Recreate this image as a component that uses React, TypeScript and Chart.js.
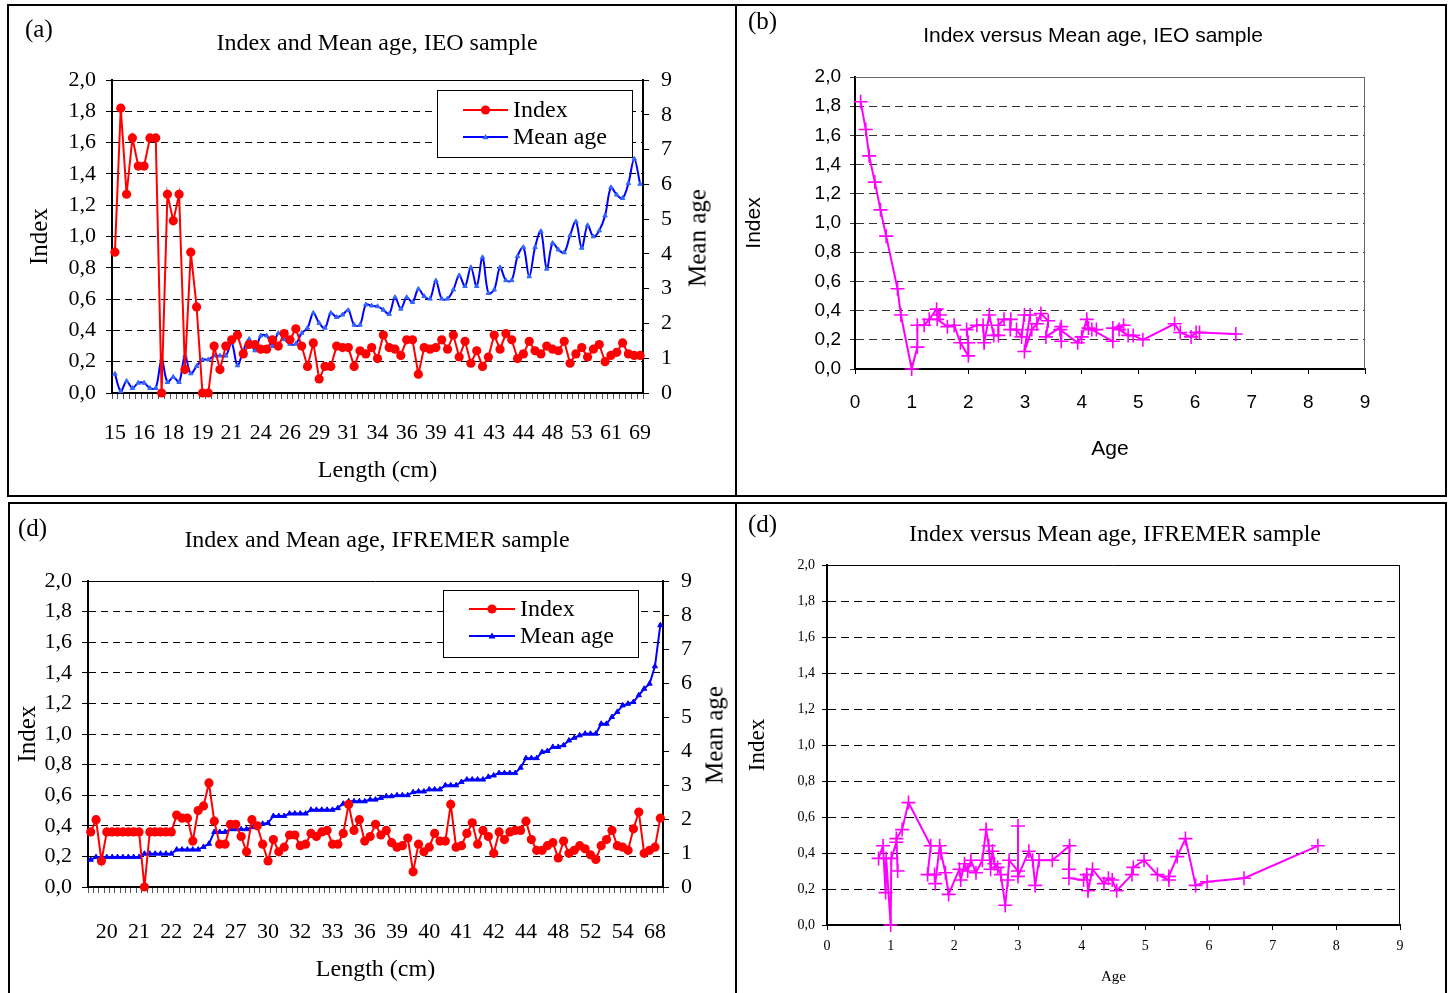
import React, { useEffect, useRef } from 'react';
import { Chart, registerables } from 'chart.js';
Chart.register(...registerables);

const SERIF = "'Liberation Serif','Times New Roman',Times,serif";
const SANS = "'Liberation Sans',Arial,Helvetica,sans-serif";

// ---------- Panel (a): Index and Mean age, IEO sample ----------
const tickLabelsA = ['15','16','18','19','21','24','26','29','31','34','36','39','41','43','44','48','53','61','69'];
const indexA = [0.90,1.82,1.27,1.63,1.45,1.45,1.63,1.63,0.00,1.27,
  1.10,1.27,0.15,0.90,0.55,0.00,0.00,0.30,0.15,0.30,
  0.34,0.37,0.25,0.31,0.31,0.28,0.28,0.34,0.30,0.38,
  0.34,0.41,0.30,0.17,0.32,0.09,0.17,0.17,0.30,0.29,
  0.29,0.17,0.27,0.25,0.29,0.22,0.37,0.29,0.28,0.24,
  0.34,0.34,0.12,0.29,0.28,0.29,0.34,0.28,0.37,0.23,
  0.33,0.19,0.27,0.17,0.23,0.37,0.28,0.38,0.34,0.22,
  0.25,0.33,0.27,0.25,0.30,0.28,0.27,0.33,0.19,0.25,
  0.29,0.23,0.28,0.31,0.20,0.24,0.26,0.32,0.25,0.24,
  0.24];
const meanAgeA = [0.55,0.05,0.34,0.14,0.29,0.29,0.14,0.14,0.96,0.31,
  0.46,0.31,1.07,0.56,0.77,0.96,0.96,1.07,1.07,1.07,
  1.44,0.79,1.22,1.55,1.22,1.65,1.65,1.34,1.72,1.55,
  1.41,1.41,1.72,1.87,2.30,2.01,1.87,2.30,2.18,2.25,
  2.38,1.96,1.96,2.54,2.51,2.49,2.39,2.27,2.75,2.42,
  2.75,2.61,2.99,2.78,2.71,3.23,2.71,2.71,2.97,3.38,
  3.07,3.61,3.07,3.90,2.87,2.97,3.61,3.24,3.24,3.93,
  4.19,3.35,4.19,4.65,3.57,4.31,4.12,4.04,4.53,4.93,
  4.17,4.82,4.50,4.67,5.10,5.91,5.70,5.60,6.03,6.73,
  6.01];

// ---------- Panel (b): Index versus Mean age, IEO sample ----------
const ageB = [0.10,0.19,0.25,0.35,0.45,0.55,0.75,0.81,1.00,1.10,
  1.10,1.22,1.31,1.44,1.50,1.45,1.63,1.75,1.86,2.00,
  2.00,1.97,2.15,2.26,2.28,2.37,2.45,2.53,2.53,2.63,
  2.75,2.74,2.85,2.94,2.99,3.09,2.99,3.12,3.21,3.28,
  3.41,3.37,3.64,3.64,3.62,3.93,4.00,4.09,4.12,4.26,
  4.18,4.55,4.55,4.74,4.66,4.82,4.91,5.08,5.64,5.74,
  5.93,6.02,6.08,6.72];
const indexB = [1.83,1.64,1.46,1.28,1.09,0.91,0.55,0.37,0.00,0.15,
  0.30,0.30,0.34,0.41,0.37,0.34,0.29,0.30,0.18,0.09,
  0.18,0.27,0.30,0.30,0.18,0.37,0.23,0.23,0.30,0.34,
  0.34,0.27,0.27,0.22,0.37,0.37,0.12,0.27,0.31,0.38,
  0.33,0.22,0.29,0.19,0.27,0.18,0.22,0.34,0.28,0.27,
  0.27,0.19,0.28,0.30,0.27,0.23,0.23,0.20,0.31,0.25,
  0.22,0.25,0.25,0.24];

// ---------- Panel (c): Index and Mean age, IFREMER sample ----------
const tickLabelsC = ['20','21','22','24','27','30','32','33','36','39','40','41','42','44','48','52','54','68'];
const indexC = [0.36,0.44,0.17,0.36,0.36,0.36,0.36,0.36,0.36,0.36,
  0.00,0.36,0.36,0.36,0.36,0.36,0.47,0.45,0.45,0.30,
  0.50,0.53,0.68,0.43,0.28,0.28,0.41,0.41,0.33,0.23,
  0.44,0.40,0.28,0.17,0.31,0.23,0.26,0.34,0.34,0.27,
  0.28,0.35,0.33,0.36,0.37,0.28,0.28,0.35,0.54,0.37,
  0.44,0.30,0.33,0.41,0.34,0.37,0.29,0.26,0.27,0.32,
  0.10,0.28,0.23,0.26,0.35,0.30,0.30,0.54,0.26,0.27,
  0.35,0.42,0.28,0.37,0.33,0.22,0.36,0.31,0.36,0.37,
  0.37,0.43,0.31,0.24,0.24,0.27,0.29,0.19,0.30,0.22,
  0.24,0.27,0.25,0.21,0.18,0.27,0.31,0.37,0.27,0.26,
  0.24,0.38,0.49,0.22,0.24,0.26,0.45];
const meanAgeC = [0.80,0.88,0.88,0.88,0.88,0.88,0.88,0.88,0.88,0.88,
  0.98,0.98,0.98,0.98,0.98,0.98,
  1.10,1.10,1.10,1.10,1.10,
  1.18,1.27,1.62,1.62,1.62,
  1.70,1.70,1.70,1.70,
  1.76,1.81,1.86,1.88,
  2.09,2.09,2.09,
  2.16,2.16,2.16,2.16,
  2.27,2.27,2.27,2.27,2.27,
  2.32,2.45,
  2.52,2.52,2.52,2.52,
  2.57,2.57,2.62,
  2.67,2.67,2.70,2.70,2.70,
  2.79,2.81,2.81,
  2.87,2.87,2.87,
  2.99,2.99,2.99,
  3.09,3.16,3.16,3.16,3.16,
  3.24,3.28,
  3.35,3.35,3.35,3.35,
  3.51,3.79,3.79,3.79,
  3.97,4.00,4.12,4.12,4.17,
  4.31,4.39,4.46,
  4.51,4.51,4.51,
  4.80,4.80,5.00,5.15,5.34,
  5.39,5.44,5.64,5.83,5.98,
  6.49,7.70];

// ---------- Panel (d): Index versus Mean age, IFREMER sample ----------
const ageD = [0.81,0.88,0.92,0.93,1.00,1.01,1.09,1.11,1.09,1.18,
  1.28,1.63,1.58,1.69,1.70,1.77,1.79,1.86,1.91,2.08,
  2.10,2.16,2.21,2.26,2.34,2.44,2.50,2.54,2.57,2.60,
  2.63,2.68,2.73,2.80,2.84,2.86,3.00,3.00,3.00,3.17,
  3.23,3.27,3.33,3.54,3.81,3.80,3.80,4.03,4.08,4.10,
  4.17,4.35,4.42,4.48,4.55,4.79,4.81,4.98,5.19,5.37,
  5.37,5.50,5.63,5.79,5.97,6.55,7.71];
const indexD = [0.37,0.44,0.18,0.37,0.00,0.37,0.46,0.30,0.48,0.53,
  0.68,0.44,0.28,0.28,0.23,0.44,0.40,0.29,0.17,0.31,
  0.25,0.34,0.30,0.36,0.29,0.36,0.53,0.44,0.31,0.41,
  0.34,0.32,0.28,0.11,0.25,0.36,0.30,0.55,0.27,0.41,
  0.36,0.22,0.36,0.36,0.44,0.31,0.26,0.25,0.28,0.19,
  0.31,0.23,0.26,0.25,0.19,0.28,0.32,0.36,0.28,0.25,
  0.27,0.38,0.48,0.22,0.24,0.26,0.44];

const categoriesA = indexA.map((_, i) => (i % 5 === 0 ? tickLabelsA[i / 5] ?? '' : ''));
const categoriesC = indexC.map((_, i) => (i >= 3 && (i - 3) % 6 === 0 ? tickLabelsC[(i - 3) / 6] ?? '' : ''));

const fmtComma = (v: any) => Number(v).toFixed(1).replace('.', ',');

// ---------- plugins ----------
const framePlugin = {
  id: 'frame',
  beforeDatasetsDraw(chart: any, _a: any, opts: any) {
    if (!opts || !opts.color) return;
    const { left, right, top, bottom } = chart.chartArea;
    const ctx = chart.ctx;
    ctx.save();
    ctx.strokeStyle = opts.color;
    ctx.lineWidth = opts.width || 1;
    ctx.setLineDash([]);
    ctx.beginPath();
    if (opts.top) { ctx.moveTo(left, top + 0.5); ctx.lineTo(right, top + 0.5); }
    if (opts.right) { ctx.moveTo(right - 0.5, top); ctx.lineTo(right - 0.5, bottom); }
    ctx.stroke();
    ctx.restore();
  },
};

const insetLegend = {
  id: 'insetLegend',
  afterDraw(chart: any, _a: any, opts: any) {
    if (!opts || opts.w === undefined) return;
    const ctx = chart.ctx;
    const { x, y, w, h, rows, lineX0, lineX1, textX, font } = opts;
    ctx.save();
    ctx.fillStyle = '#fff';
    ctx.fillRect(x, y, w, h);
    ctx.strokeStyle = '#000';
    ctx.lineWidth = 1;
    ctx.strokeRect(x + 0.5, y + 0.5, w, h);
    chart.data.datasets.forEach((ds: any, i: number) => {
      const cy = y + rows[i];
      ctx.strokeStyle = ds.borderColor;
      ctx.lineWidth = 2;
      ctx.beginPath();
      ctx.moveTo(x + lineX0, cy);
      ctx.lineTo(x + lineX1, cy);
      ctx.stroke();
      const mx = x + (lineX0 + lineX1) / 2;
      ctx.fillStyle = ds.pointBackgroundColor || ds.backgroundColor;
      if (ds.pointStyle === 'circle') {
        ctx.beginPath();
        ctx.arc(mx, cy, ds.pointRadius, 0, Math.PI * 2);
        ctx.fill();
      } else {
        const r = ds.pointRadius + 0.5;
        ctx.beginPath();
        ctx.moveTo(mx, cy - r);
        ctx.lineTo(mx + r, cy + r * 0.7);
        ctx.lineTo(mx - r, cy + r * 0.7);
        ctx.closePath();
        ctx.fill();
      }
      ctx.fillStyle = '#000';
      ctx.font = font;
      ctx.textBaseline = 'middle';
      ctx.textAlign = 'left';
      ctx.fillText(ds.label, x + textX, cy + 1);
    });
    ctx.restore();
  },
};

// ---------- config builders ----------
function dualConfig(p: any) {
  return {
    type: 'line',
    data: {
      labels: p.labels,
      datasets: [
        {
          label: 'Index', data: p.index, yAxisID: 'y',
          borderColor: '#ff0000', backgroundColor: '#ff0000',
          pointBackgroundColor: '#ff0000', pointBorderColor: '#ff0000',
          borderWidth: 2, pointStyle: 'circle', pointRadius: 4.6, pointBorderWidth: 0,
          tension: 0, clip: false,
        },
        {
          label: 'Mean age', data: p.age, yAxisID: 'y2',
          borderColor: p.ageLine, backgroundColor: p.agePoint,
          pointBackgroundColor: p.agePoint, pointBorderColor: p.agePoint,
          borderWidth: 2, pointStyle: 'triangle', pointRadius: p.ageRadius, pointBorderWidth: 1,
          tension: p.ageTension, clip: false,
        },
      ],
    },
    options: {
      animation: false,
      responsive: false,
      events: [],
      layout: { padding: { left: p.padLeft, right: p.padRight, top: p.padTop, bottom: 0 } },
      plugins: {
        legend: { display: false },
        tooltip: { enabled: false },
        frame: { color: '#000', width: 1, top: true, right: false },
        insetLegend: p.legend,
      },
      scales: {
        x: {
          type: 'category',
          offset: true,
          grid: { offset: true, drawOnChartArea: false, drawTicks: true, tickLength: 6, color: '#555', lineWidth: 1 },
          border: { color: '#000', width: 2 },
          ticks: { autoSkip: false, maxRotation: 0, minRotation: 0, padding: p.xTickPad, color: '#000', font: { family: SERIF, size: 22 } },
          title: { display: true, text: 'Length (cm)', color: '#000', font: { family: SERIF, size: 24 }, padding: { top: 0, bottom: p.xTitlePad } },
          afterFit: (s: any) => { s.height = p.xHeight; },
        },
        y: {
          position: 'left',
          min: 0, max: 2,
          ticks: { stepSize: 0.2, padding: 10, color: '#000', font: { family: SERIF, size: 22 }, callback: fmtComma },
          grid: { color: '#000', lineWidth: 1, tickLength: 6 },
          border: { color: '#000', width: 2, dash: [7, 5] },
          title: { display: true, text: 'Index', color: '#000', font: { family: SERIF, size: 25 }, padding: { top: 0, bottom: 0 } },
          afterFit: (s: any) => { s.width = p.yWidth; },
        },
        y2: {
          position: 'right',
          min: 0, max: 9,
          ticks: { stepSize: 1, padding: 12, color: '#000', font: { family: SERIF, size: 22 } },
          grid: { drawOnChartArea: false, color: '#000', tickLength: 6 },
          border: { color: '#000', width: 2 },
          afterFit: (s: any) => { s.width = p.y2Width; },
        },
      },
    },
    plugins: [framePlugin, insetLegend],
  };
}

function scatterConfig(p: any) {
  return {
    type: 'scatter',
    data: {
      datasets: [
        {
          label: 'Index',
          data: p.ages.map((a: number, i: number) => ({ x: a, y: p.index[i] })),
          showLine: true,
          borderColor: '#ff00ff', backgroundColor: '#ff00ff',
          pointBorderColor: '#ff00ff',
          borderWidth: 2, pointStyle: 'cross', pointRadius: 7, pointBorderWidth: 1.6,
          tension: 0, clip: false,
        },
      ],
    },
    options: {
      animation: false,
      responsive: false,
      events: [],
      layout: { padding: { left: p.padLeft, right: p.padRight, top: p.padTop, bottom: 0 } },
      plugins: {
        legend: { display: false },
        tooltip: { enabled: false },
        frame: { color: p.frameColor, width: 1, top: true, right: true },
      },
      scales: {
        x: {
          type: 'linear', min: 0, max: 9,
          grid: { drawOnChartArea: false, drawTicks: true, tickLength: 5, color: '#000' },
          border: { color: '#000', width: 2 },
          ticks: { stepSize: 1, padding: p.xTickPad, color: '#000', maxRotation: 0, font: { family: p.tickFamily, size: p.tickSize } },
          title: { display: true, text: 'Age', color: '#000', font: { family: p.tickFamily, size: p.ageTitleSize }, padding: { top: 0, bottom: p.xTitlePad } },
          afterFit: (s: any) => { s.height = p.xHeight; },
        },
        y: {
          min: 0, max: 2,
          ticks: { stepSize: 0.2, padding: p.yTickPad, color: '#000', font: { family: p.tickFamily, size: p.tickSize }, callback: fmtComma },
          grid: { color: p.gridColor, lineWidth: 1, tickLength: 5 },
          border: { color: '#000', width: 2, dash: [8, 5] },
          title: { display: true, text: 'Index', color: '#000', font: { family: p.indexFamily, size: p.indexTitleSize }, padding: { top: 0, bottom: 0 } },
          afterFit: (s: any) => { s.width = p.yWidth; },
        },
      },
    },
    plugins: [framePlugin],
  };
}

function ChartCanvas({ make, left, top, width, height }: any) {
  const ref = useRef<HTMLCanvasElement>(null);
  useEffect(() => {
    const chart = new Chart(ref.current as HTMLCanvasElement, make() as any);
    return () => chart.destroy();
  }, []);
  return (
    <canvas
      ref={ref}
      width={width}
      height={height}
      style={{ position: 'absolute', left, top, width, height }}
    />
  );
}

function Label({ x, y, text, size, family = SERIF, rotate = 0, anchor = 'center' }: any) {
  const tr = anchor === 'center' ? 'translate(-50%,-50%)' : 'translate(0,-50%)';
  return (
    <div
      style={{
        position: 'absolute', left: x, top: y,
        transform: `${tr} rotate(${rotate}deg)`,
        fontFamily: family, fontSize: size, lineHeight: 1,
        whiteSpace: 'nowrap', color: '#000',
      }}
    >
      {text}
    </div>
  );
}

function Box({ l, t, r, b }: any) {
  return (
    <div
      style={{
        position: 'absolute', left: l, top: t, width: r - l, height: b - t,
        border: '2px solid #000', boxSizing: 'border-box',
      }}
    />
  );
}

export default function App() {
  const makeA = () => dualConfig({
    labels: categoriesA, index: indexA, age: meanAgeA,
    ageLine: '#0000ff', agePoint: '#3366ff', ageTension: 0.35, ageRadius: 2.6,
    padLeft: 17, padRight: 32, padTop: 75,
    yWidth: 87, y2Width: 60, xHeight: 102, xTickPad: 21, xTitlePad: 10,
    legend: { x: 429, y: 85, w: 195, h: 67, rows: [20, 47], lineX0: 26, lineX1: 71, textX: 76, font: `24px ${SERIF}` },
  });
  const makeC = () => dualConfig({
    labels: categoriesC, index: indexC, age: meanAgeC,
    ageLine: '#0000ff', agePoint: '#0000ff', ageTension: 0, ageRadius: 3,
    padLeft: 5, padRight: 12, padTop: 78,
    yWidth: 75, y2Width: 60, xHeight: 106, xTickPad: 26, xTitlePad: 9,
    legend: { x: 435, y: 87, w: 195, h: 67, rows: [19, 46], lineX0: 26, lineX1: 72, textX: 77, font: `24px ${SERIF}` },
  });
  const makeB = () => scatterConfig({
    ages: ageB, index: indexB,
    padLeft: 5, padRight: 81, padTop: 72,
    yWidth: 113, xHeight: 126, xTickPad: 17, xTitlePad: 33, yTickPad: 9,
    tickFamily: SANS, tickSize: 19, ageTitleSize: 21, indexFamily: SANS, indexTitleSize: 21,
    gridColor: '#333', frameColor: '#666',
  });
  const makeD = () => scatterConfig({
    ages: ageD, index: indexD,
    padLeft: 7, padRight: 46, padTop: 62,
    yWidth: 83, xHeight: 68, xTickPad: 8, xTitlePad: 7, yTickPad: 7,
    tickFamily: SERIF, tickSize: 14, ageTitleSize: 15, indexFamily: SERIF, indexTitleSize: 23,
    gridColor: '#000', frameColor: '#000',
  });

  return (
    <div style={{ position: 'absolute', left: 0, top: 0, width: 1455, height: 993, overflow: 'hidden', background: '#fff' }}>
      <Box l={7} t={4} r={737} b={497} />
      <Box l={735} t={4} r={1447} b={497} />
      <Box l={8} t={502} r={737} b={1010} />
      <Box l={735} t={502} r={1447} b={1010} />

      <ChartCanvas make={makeA} left={8} top={5} width={727} height={490} />
      <ChartCanvas make={makeB} left={737} top={5} width={709} height={490} />
      <ChartCanvas make={makeC} left={8} top={503} width={727} height={490} />
      <ChartCanvas make={makeD} left={737} top={503} width={709} height={490} />

      <Label x={25} y={28} text="(a)" size={25} anchor="left" />
      <Label x={377} y={42} text="Index and Mean age, IEO sample" size={24} />
      <Label x={697} y={238} text="Mean age" size={25} rotate={-90} />

      <Label x={748} y={20} text="(b)" size={25} anchor="left" />
      <Label x={1093} y={34} text="Index versus Mean age, IEO sample" size={21} family={SANS} />

      <Label x={18} y={527} text="(d)" size={25} anchor="left" />
      <Label x={377} y={539} text="Index and Mean age, IFREMER sample" size={24} />
      <Label x={714} y={735} text="Mean age" size={25} rotate={-90} />

      <Label x={748} y={523} text="(d)" size={25} anchor="left" />
      <Label x={1115} y={533} text="Index versus Mean age, IFREMER sample" size={24} />
    </div>
  );
}
